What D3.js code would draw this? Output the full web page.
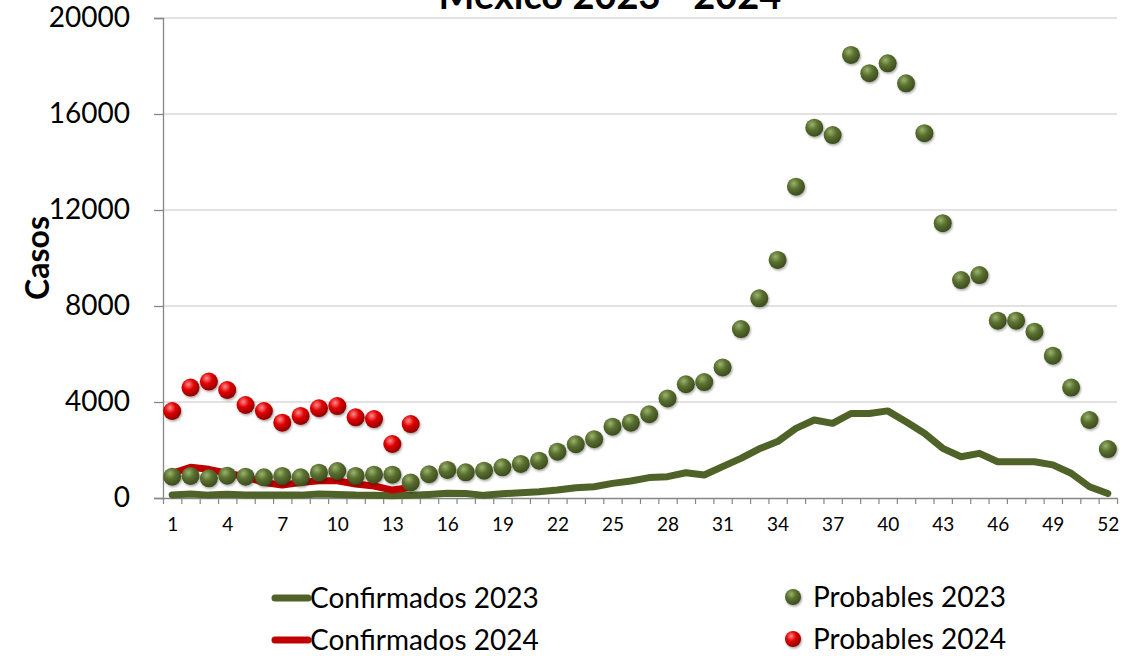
<!DOCTYPE html>
<html>
<head>
<meta charset="utf-8">
<script src="https://cdn.jsdelivr.net/npm/d3@7"></script>
<style>
	body { margin: 0; background: #fff; }
	svg text { font-family: Lato, "Open Sans", sans-serif; fill: #000; }
</style>
</head>
<body>
<div id="chartDiv"></div>
<script>
;(function() {

	var weeks = [1,2,3,4,5,6,7,8,9,10,11,12,13,14,15,16,17,18,19,20,21,22,23,24,25,26,
		27,28,29,30,31,32,33,34,35,36,37,38,39,40,41,42,43,44,45,46,47,48,49,50,51,52];
	var weeks2024 = [1,2,3,4,5,6,7,8,9,10,11,12,13,14];

	var confirmados2023 = [130,170,120,160,130,120,130,120,170,150,120,110,90,
		110,150,200,190,110,180,220,260,330,430,470,610,710,850,890,1050,960,1310,
		1650,2050,2350,2900,3250,3110,3520,3520,3630,3180,2700,2070,1720,1860,1510,
		1510,1510,1380,1030,470,190];
	var probables2023 = [890,920,820,930,890,860,920,860,1055,1125,920,970,970,
		650,990,1170,1070,1140,1280,1420,1555,1930,2240,2450,2970,3140,3490,4150,
		4740,4830,5440,7040,8320,9920,12970,15430,15120,18460,17700,18110,17280,
		15200,11450,9080,9290,7390,7390,6930,5930,4600,3250,2040];
	var confirmados2024 = [1030,1280,1195,1030,890,640,540,640,720,720,580,500,330,440];
	var probables2024 = [3625,4600,4850,4500,3875,3625,3140,3420,3740,3830,3360,3290,2250,3080];

	var yTicks = [0,4000,8000,12000,16000,20000];
	var xTickLabels = [1,4,7,10,13,16,19,22,25,28,31,34,37,40,43,46,49,52];

	var width = 1136;
	var height = 656;
	var plot = { left: 163, right: 1117, top: 18, bottom: 498 };
	var green = "#4f6228";
	var red = "#c00000";
	var dotRadius = 9;

	var chart = d3.select("#chartDiv").append("svg")
		.attr("width", width)
		.attr("height", height);

	// gradients for the shaded balls
	var defs = chart.append("defs");
	function ball(id, hi, mid, lo) {
		var g = defs.append("radialGradient")
			.attr("id", id)
			.attr("cx", "38%").attr("cy", "32%").attr("r", "70%");
		g.append("stop").attr("offset", "0%").attr("stop-color", hi);
		g.append("stop").attr("offset", "45%").attr("stop-color", mid);
		g.append("stop").attr("offset", "100%").attr("stop-color", lo);
	}
	ball("ballGreen", "#9bb36d", "#5a7030", "#3a4a1c");
	ball("ballRed", "#ff8a8a", "#e00000", "#8a0000");
	var shadow = defs.append("filter").attr("id", "shadow")
		.attr("x", "-50%").attr("y", "-50%").attr("width", "200%").attr("height", "200%");
	shadow.append("feDropShadow").attr("dx", 1).attr("dy", 1.5)
		.attr("stdDeviation", 1.2).attr("flood-color", "#000").attr("flood-opacity", 0.35);

	var xScale = d3.scaleLinear().domain([0.5, 52.5]).range([plot.left, plot.right]);
	var yScale = d3.scaleLinear().domain([0, 20000]).range([plot.bottom, plot.top]);

	// gridlines
	chart.append("g")
		.selectAll("line")
		.data(yTicks.slice(1))
		.enter().append("line")
			.attr("x1", plot.left).attr("x2", plot.right)
			.attr("y1", function(d) { return yScale(d); })
			.attr("y2", function(d) { return yScale(d); })
			.attr("stroke", "#d9d9d9").attr("stroke-width", 1.3);

	// y axis
	var yAxis = chart.append("g")
		.attr("transform", "translate(" + plot.left + ",0)")
		.call(d3.axisLeft(yScale).tickValues(yTicks).tickFormat(d3.format("d")).tickSize(9).tickPadding(24));
	yAxis.select(".domain").attr("stroke", "#868686").attr("stroke-width", 1.3);
	yAxis.selectAll(".tick line").attr("stroke", "#868686").attr("stroke-width", 1.3);
	yAxis.selectAll("text").style("font-size", "28px").attr("fill", "#000");

	// x axis: tick marks on category boundaries, labels every 3 weeks
	var xTicksAxis = chart.append("g")
		.attr("transform", "translate(0," + plot.bottom + ")")
		.call(d3.axisBottom(xScale).tickValues(d3.range(0.5, 53, 1)).tickFormat("").tickSize(6).tickSizeOuter(0));
	xTicksAxis.select(".domain").attr("stroke", "#868686").attr("stroke-width", 1.3);
	xTicksAxis.selectAll(".tick line").attr("stroke", "#868686").attr("stroke-width", 1.2);

	var xLabelAxis = chart.append("g")
		.attr("transform", "translate(0," + plot.bottom + ")")
		.call(d3.axisBottom(xScale).tickValues(xTickLabels).tickFormat(d3.format("d")).tickSize(0).tickPadding(20));
	xLabelAxis.select(".domain").remove();
	xLabelAxis.selectAll("text").style("font-size", "19px").attr("fill", "#000");

	// lines
	var line = d3.line()
		.x(function(d) { return xScale(d.week); })
		.y(function(d) { return yScale(d.value); });

	function pairs(ws, vs) {
		return ws.map(function(w, i) { return { week: w, value: vs[i] }; });
	}

	chart.append("path")
		.datum(pairs(weeks, confirmados2023))
		.attr("d", line)
		.attr("fill", "none").attr("stroke", green)
		.attr("stroke-width", 7).attr("stroke-linejoin", "round").attr("stroke-linecap", "round");

	chart.append("path")
		.datum(pairs(weeks2024, confirmados2024))
		.attr("d", line)
		.attr("fill", "none").attr("stroke", red)
		.attr("stroke-width", 7).attr("stroke-linejoin", "round").attr("stroke-linecap", "round");

	// dots
	chart.append("g").selectAll("circle")
		.data(pairs(weeks, probables2023))
		.enter().append("circle")
			.attr("cx", function(d) { return xScale(d.week); })
			.attr("cy", function(d) { return yScale(d.value); })
			.attr("r", dotRadius)
			.attr("fill", "url(#ballGreen)")
			.attr("filter", "url(#shadow)");

	chart.append("g").selectAll("circle")
		.data(pairs(weeks2024, probables2024))
		.enter().append("circle")
			.attr("cx", function(d) { return xScale(d.week); })
			.attr("cy", function(d) { return yScale(d.value); })
			.attr("r", dotRadius)
			.attr("fill", "url(#ballRed)")
			.attr("filter", "url(#shadow)");

	// title (its top runs off the page, as in the original)
	chart.append("text")
		.attr("x", 610).attr("y", 9)
		.attr("text-anchor", "middle")
		.style("font-size", "38px").style("font-weight", "bold")
		.text("México 2023 - 2024");

	// y axis header
	chart.append("text")
		.attr("text-anchor", "middle")
		.attr("transform", "translate(49,258) rotate(-90)")
		.style("font-size", "32px").style("font-weight", "bold")
		.text("Casos");

	// legend
	var legend = chart.append("g");
	var lineItems = [
		{ label: "Confirmados 2023", color: green, y: 598 },
		{ label: "Confirmados 2024", color: red, y: 640 }
	];
	var dotItems = [
		{ label: "Probables 2023", fill: "url(#ballGreen)", y: 597 },
		{ label: "Probables 2024", fill: "url(#ballRed)", y: 639 }
	];
	lineItems.forEach(function(d) {
		legend.append("line")
			.attr("x1", 275).attr("x2", 308).attr("y1", d.y).attr("y2", d.y)
			.attr("stroke", d.color).attr("stroke-width", 7).attr("stroke-linecap", "round");
		legend.append("text")
			.attr("x", 310).attr("y", d.y + 10)
			.style("font-size", "28px")
			.text(d.label);
	});
	dotItems.forEach(function(d) {
		legend.append("circle")
			.attr("cx", 793).attr("cy", d.y).attr("r", 8)
			.attr("fill", d.fill).attr("filter", "url(#shadow)");
		legend.append("text")
			.attr("x", 813).attr("y", d.y + 10)
			.style("font-size", "28px")
			.text(d.label);
	});

})();
</script>
</body>
</html>
